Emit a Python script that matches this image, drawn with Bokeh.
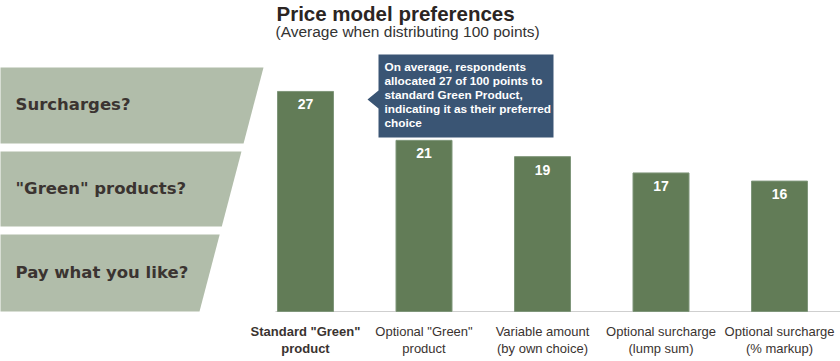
from bokeh.plotting import figure
from bokeh.models import Range1d, ColumnDataSource, Label
from bokeh.embed import file_html
from bokeh.resources import INLINE
from bokeh.core.properties import value

# ---- data ----
categories = ['Standard "Green"\nproduct', 'Optional "Green"\nproduct',
              'Variable amount\n(by own choice)', 'Optional surcharge\n(lump sum)',
              'Optional surcharge\n(% markup)']
points = [27, 21, 19, 17, 16]
questions = ["Surcharges?", '"Green" products?', "Pay what you like?"]
title = "Price model preferences"
subtitle = "(Average when distributing 100 points)"
callout = ("On average, respondents\nallocated %d of 100 points to\nstandard Green Product,\n"
           "indicating it as their preferred\nchoice" % points[0])

# ---- layout helpers (reference pixel -> data) ----
X0, XS = 305.0, 118.5     # centre of first bar, spacing
Y0, YS = 311.0, 8.15      # baseline, px per point
def dx(px): return (px - X0) / XS
def dy(py): return (Y0 - py) / YS

W, H = 840, 361
p = figure(width=W, height=H, output_backend="svg", toolbar_location=None,
           x_range=Range1d(dx(0), dx(W)), y_range=Range1d(dy(H), dy(0)),
           min_border=0, outline_line_color=None)
p.xaxis.visible = False
p.yaxis.visible = False
p.grid.visible = False
p.background_fill_color = "white"
p.border_fill_color = "white"

# funnel shapes (slanted right edge)
def edge(py):
    return 263 - (py - 67) * (64.0 / 244.0)
bands = [(67, 143), (151, 226), (234, 311)]
fx, fy = [], []
for t, b in bands:
    fx.append([dx(-10), dx(edge(t)), dx(edge(b)), dx(-10)])
    fy.append([dy(t), dy(t), dy(b), dy(b)])
p.patches(fx, fy, fill_color="#b1bdaa", line_color=None)
qy = [104, 188, 272]
p.text(x=[dx(15)] * 3, y=[dy(v) for v in qy], text=questions,
       text_font=value("DejaVu Sans"), text_font_style="bold",
       text_font_size="16.5px", text_color="#3b3431", text_baseline="middle", text_align="left")

# baseline
p.line(x=[dx(275), dx(840)], y=[0, 0], line_color="#cfcfcf", line_width=1)

# bars
idx = list(range(len(points)))
src = ColumnDataSource(dict(x=idx, top=points, lab=[str(v) for v in points],
                            cat=categories,
                            style=["bold", "normal", "normal", "normal", "normal"]))
p.vbar(x="x", top="top", bottom=0, width=56 / XS, source=src,
       fill_color="#627c57", line_color="#7f967a", line_width=1)
p.text(x="x", y="top", text="lab", source=src, y_offset=13,
       text_font=value("Liberation Sans"), text_font_style="bold", text_font_size="14px",
       text_color="white", text_align="center", text_baseline="middle")
p.text(x="x", y=0, text="cat", source=src, y_offset=12,
       text_font=value("Liberation Sans"), text_font_style="style", text_font_size="13px",
       text_color="#3a3330", text_align="center", text_baseline="top", text_line_height=1.16)

# title
p.add_layout(Label(x=dx(276), y=dy(13), text=title, text_font="Liberation Sans",
                   text_font_style="bold", text_font_size="20.5px", text_color="#2b2523",
                   text_baseline="middle"))
p.add_layout(Label(x=dx(275), y=dy(31), text=subtitle, text_font="Liberation Sans",
                   text_font_size="15.5px", text_color="#333333", text_baseline="middle"))

# callout box
cx = [378, 553, 553, 378, 378, 367, 378]
cy = [54, 54, 137, 137, 108, 99, 90]
p.patch([dx(v) for v in cx], [dy(v) for v in cy], fill_color="#3a5574", line_color=None)
p.text(x=[dx(384)], y=[dy(59)], text=[callout], text_font=value("Liberation Sans"),
       text_font_style="bold", text_font_size="11.8px", text_color="white",
       text_align="left", text_baseline="top", text_line_height=1.0)

open("out.html", "w").write(file_html(p, INLINE))
